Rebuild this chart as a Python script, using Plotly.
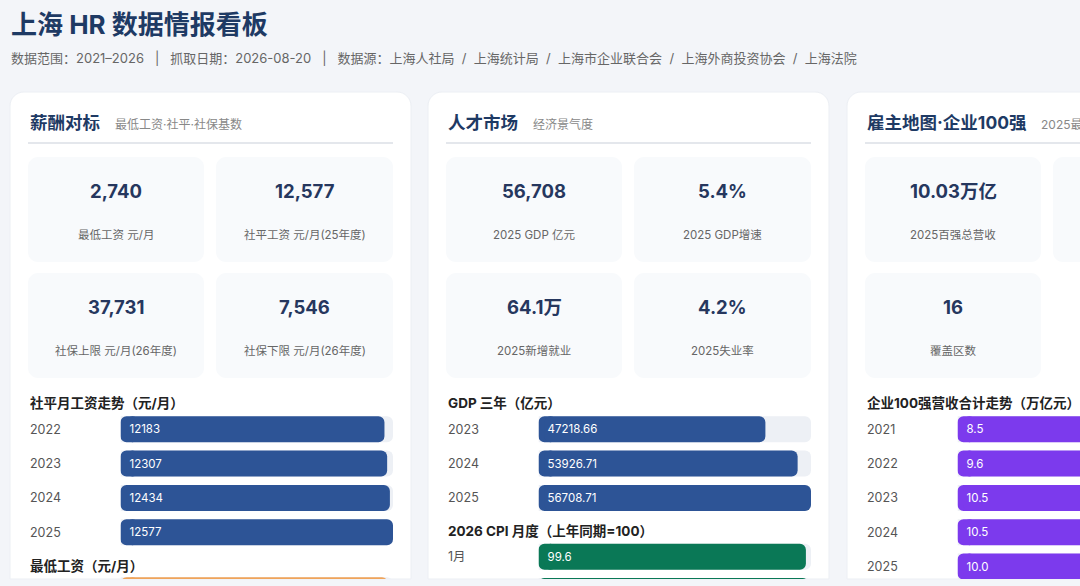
import plotly.graph_objects as go

W, H = 1080, 586
FONT = 'Inter, Noto Sans CJK SC'

# ---- data ----
TITLE = '上海 HR 数据情报看板'
SEP = '\u00a0\u00a0\u00a0|\u00a0\u00a0\u00a0'
SLASH = '\u00a0\u00a0/\u00a0\u00a0'
SUBTITLE = ('数据范围：2021–2026' + SEP + '抓取日期：2026-08-20' + SEP + '数据源：' +
            SLASH.join(['上海人社局', '上海统计局', '上海市企业联合会', '上海外商投资协会', '上海法院']))

card_titles = ['薪酬对标', '人才市场', '雇主地图·企业100强']
card_subtitles = ['最低工资·社平·社保基数', '经济景气度', '2025最新榜单']

pay_kpi_values = ['2,740', '12,577', '37,731', '7,546']
pay_kpi_labels = ['最低工资 元/月', '社平工资 元/月(25年度)', '社保上限 元/月(26年度)', '社保下限 元/月(26年度)']
market_kpi_values = ['56,708', '5.4%', '64.1万', '4.2%']
market_kpi_labels = ['2025 GDP 亿元', '2025 GDP增速', '2025新增就业', '2025失业率']
employer_kpi_values = ['10.03万亿', '', '16']
employer_kpi_labels = ['2025百强总营收', '', '覆盖区数']

avg_wage_title = '社平月工资走势（元/月）'
avg_wage_years = ['2022', '2023', '2024', '2025']
avg_wage = [12183, 12307, 12434, 12577]

min_wage_title = '最低工资（元/月）'
min_wage_years = ['2023', '2025']
min_wage = [2690, 2740]

gdp_title = 'GDP 三年（亿元）'
gdp_years = ['2023', '2024', '2025']
gdp = [47218.66, 53926.71, 56708.71]

cpi_title = '2026 CPI 月度（上年同期=100）'
cpi_months = ['1月', '2月']
cpi = [99.6, 100.6]

top100_title = '企业100强营收合计走势（万亿元）'
top100_years = ['2021', '2022', '2023', '2024', '2025']
top100_rev = [8.5, 9.6, 10.5, 10.5, 10.0]

# ---- styling ----
BG = '#f3f5f9'
NAVY = '#1e3a64'
BAR_BLUE = '#2d5496'
BAR_GREEN = '#0a7856'
BAR_PURPLE = '#7c3aed'
BAR_ORANGE = '#f0a45a'
TRACK = '#edf0f5'
KPI_BG = '#f8fafc'

CARD_X = [10, 428, 847]
CARD_W = 401
CARD_TOP, CARD_BOTTOM = 92, 579
PAD = 18
STEP = 34.3
BAR_H = 26
RADIUS = 6


def px(x):
    return x / W


def py(y):
    return 1 - y / H


def path_str(pts):
    s = ''
    for cmd, ps in pts:
        s += cmd + ' ' + ' '.join(f'{px(a):.5f},{py(b):.5f}' for a, b in ps) + ' '
    return s + 'Z'


def rounded_path(x0, y0, x1, y1, r, square_bottom=False):
    k = 0.4477 * r
    pts = [('M', [(x0, y0 + r)]),
           ('C', [(x0, y0 + k), (x0 + k, y0), (x0 + r, y0)]), ('L', [(x1 - r, y0)]),
           ('C', [(x1 - k, y0), (x1, y0 + k), (x1, y0 + r)])]
    if square_bottom:
        pts += [('L', [(x1, y1)]), ('L', [(x0, y1)])]
    else:
        pts += [('L', [(x1, y1 - r)]),
                ('C', [(x1, y1 - k), (x1 - k, y1), (x1 - r, y1)]), ('L', [(x0 + r, y1)]),
                ('C', [(x0 + k, y1), (x0, y1 - k), (x0, y1 - r)])]
    return path_str(pts)


fig = go.Figure()
shapes = []
annotations = []


def text(x, y, s, size, color, bold=False, xanchor='left'):
    annotations.append(dict(
        x=px(x), y=py(y), xref='paper', yref='paper', text=s, showarrow=False,
        xanchor=xanchor, yanchor='middle',
        font=dict(family=FONT, size=size, color=color, weight='bold' if bold else 'normal')))


# page title
text(9, 25, TITLE, 26, NAVY, bold=True)
text(9, 58, SUBTITLE, 13, '#666666')

sub_offsets = [85, 85, 174]
kpis = [(pay_kpi_values, pay_kpi_labels), (market_kpi_values, market_kpi_labels),
        (employer_kpi_values, employer_kpi_labels)]

for i, cx in enumerate(CARD_X):
    left = cx + PAD
    right = cx + CARD_W - PAD
    shapes.append(dict(type='path', xref='paper', yref='paper', layer='below',
                       path=rounded_path(cx, CARD_TOP, cx + CARD_W, CARD_BOTTOM, 14, square_bottom=True),
                       fillcolor='white', line=dict(color='#eceff4', width=1)))
    text(left, 122, card_titles[i], 17.5, NAVY, bold=True)
    text(left + sub_offsets[i], 124, card_subtitles[i], 12, '#888888')
    shapes.append(dict(type='line', xref='paper', yref='paper', layer='below',
                       x0=px(left), x1=px(right), y0=py(143), y1=py(143),
                       line=dict(color='#e4e7ec', width=2)))
    vals, labs = kpis[i]
    for j, (v, lab) in enumerate(zip(vals, labs)):
        col, row = j % 2, j // 2
        bx0 = left if col == 0 else left + 188
        bx1 = left + 176 if col == 0 else right
        by0 = 157 if row == 0 else 273
        by1 = by0 + 105
        shapes.append(dict(type='path', xref='paper', yref='paper', layer='below',
                           path=rounded_path(bx0, by0, bx1, by1, 10),
                           fillcolor=KPI_BG, line=dict(width=0)))
        if v:
            text((bx0 + bx1) / 2, by0 + 34, v, 18.5, '#26375e', bold=True, xanchor='center')
            text((bx0 + bx1) / 2, by0 + 78, lab, 11.5, '#666666', xanchor='center')

panel_no = [0]


def bar_panel(card, title, title_y, cats, values, labels, color, c0, top, bottom, scale_max):
    panel_no[0] += 1
    n = panel_no[0]
    cx = CARD_X[card]
    left = cx + PAD
    bx0 = cx + 110.5
    bx1 = cx + CARD_W - PAD
    vis_right = min(bx1, W)
    sfx = '' if n == 1 else str(n)
    xa, ya = 'x' + sfx, 'y' + sfx
    idx = list(range(len(cats)))
    # rows whose centre falls inside the visible part of the card get labels
    shown = [top <= c0 + i * STEP <= bottom for i in idx]
    cap = RADIUS * scale_max / (bx1 - bx0)
    text(left, title_y, title, 13.5, '#222222', bold=True)
    common = dict(y=idx, orientation='h', xaxis=xa, yaxis=ya, width=BAR_H / STEP)
    fig.add_trace(go.Bar(x=[scale_max] * len(cats),
                         marker=dict(color=TRACK, cornerradius=RADIUS, line=dict(width=0)),
                         hoverinfo='skip', **common))
    # rounded left end of each bar (overlaps the main bar a little)
    fig.add_trace(go.Bar(x=[-3 * cap] * len(cats), base=3 * cap,
                         marker=dict(color=color, cornerradius=RADIUS, line=dict(width=0)),
                         hoverinfo='skip', **common))
    fig.add_trace(go.Bar(
        x=[v - cap for v in values], base=cap,
        marker=dict(color=color, cornerradius=RADIUS, line=dict(width=0)),
        text=[s if ok else '' for s, ok in zip(labels, shown)], texttemplate='%{text}',
        textposition='inside', insidetextanchor='start', constraintext='none',
        insidetextfont=dict(family=FONT, size=11.5, color='white'),
        customdata=values, hovertext=cats,
        hovertemplate='%{hovertext}: %{customdata}<extra></extra>', **common))
    fig.layout['xaxis' + sfx] = dict(
        domain=[px(bx0), px(vis_right)], anchor=ya, visible=False, fixedrange=True,
        range=[0, scale_max * (vis_right - bx0) / (bx1 - bx0)])
    fig.layout['yaxis' + sfx] = dict(
        domain=[py(bottom), py(top)], anchor=xa, visible=False, fixedrange=True,
        range=[(bottom - c0) / STEP, (top - c0) / STEP])
    for i, cat in enumerate(cats):
        if shown[i]:
            annotations.append(dict(
                x=px(left), y=i, xref='paper', yref=ya, text=cat, showarrow=False,
                xanchor='left', yanchor='middle',
                font=dict(family=FONT, size=12.5, color='#555555')))


bar_panel(0, avg_wage_title, 403.3, avg_wage_years, avg_wage, [str(v) for v in avg_wage],
          BAR_BLUE, 429.3, 412, 549.5, max(avg_wage))
bar_panel(0, min_wage_title, 565.7, min_wage_years, min_wage, [str(v) for v in min_wage],
          BAR_ORANGE, 590.3, 577, CARD_BOTTOM, max(min_wage))
bar_panel(1, gdp_title, 403.3, gdp_years, gdp, [f'{v:.2f}' for v in gdp],
          BAR_BLUE, 429.3, 412, 515, max(gdp))
bar_panel(1, cpi_title, 531, cpi_months, cpi, [f'{v:.1f}' for v in cpi],
          BAR_GREEN, 556.7, 539.5, CARD_BOTTOM, 101.5)
bar_panel(2, top100_title, 403.3, top100_years, top100_rev, [f'{v:.1f}' for v in top100_rev],
          BAR_PURPLE, 429.3, 412, CARD_BOTTOM, max(top100_rev))

fig.update_layout(
    width=W, height=H, margin=dict(l=0, r=0, t=0, b=0),
    paper_bgcolor=BG, plot_bgcolor='rgba(0,0,0,0)',
    showlegend=False, barmode='overlay',
    shapes=shapes, annotations=annotations,
    font=dict(family=FONT),
)

fig.write_html('out.html', config={'displayModeBar': False},
               post_script="document.body.style.margin='0';")
